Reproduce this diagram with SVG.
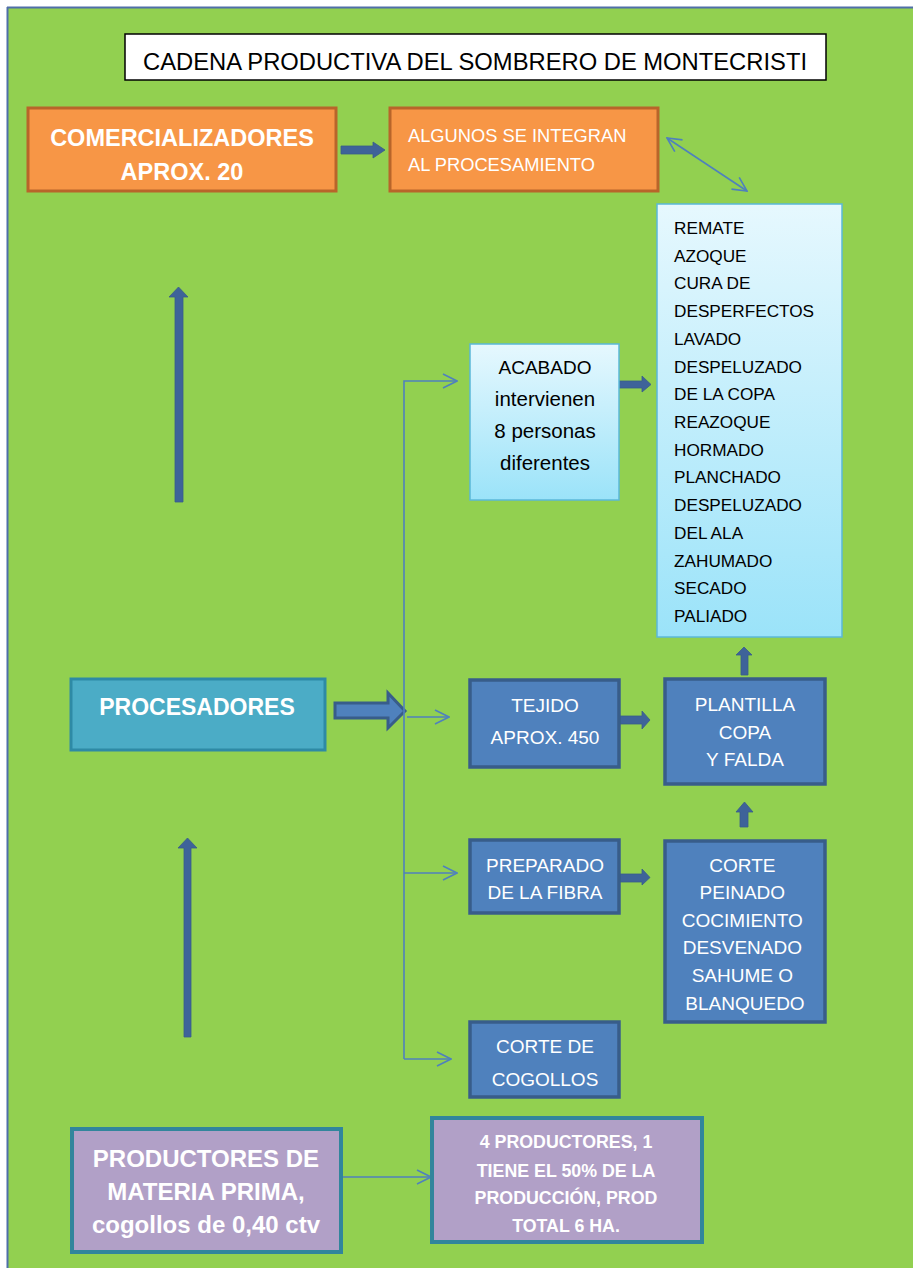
<svg xmlns="http://www.w3.org/2000/svg" width="913" height="1268" viewBox="0 0 913 1268">
<style>
text{font-family:"Liberation Sans",Arial,sans-serif;}
.w{fill:#ffffff;}
.k{fill:#000000;}
.c{text-anchor:middle;}
.b{font-weight:bold;}
.orange{fill:#F79646;stroke:#B8652A;stroke-width:3;}
.teal{fill:#4BACC6;stroke:#2E8AA5;stroke-width:3;}
.blue{fill:#4F81BD;stroke:#385D8A;stroke-width:3.5;}
.purple{fill:#B1A0C7;stroke:#31859C;stroke-width:4;}
.light{fill:url(#lg);stroke:#5BB8D8;stroke-width:1.5;}
.thick{fill:#3E6399;stroke:#385D8A;stroke-width:0.8;}
.thin{stroke:#4F81BD;stroke-width:1.6;fill:none;}
</style>
<defs>
<linearGradient id="lg" x1="0" y1="0" x2="0" y2="1">
<stop offset="0" stop-color="#E6F8FE"/>
<stop offset="1" stop-color="#9BE3F9"/>
</linearGradient>
<marker id="oa" markerUnits="userSpaceOnUse" markerWidth="16" markerHeight="16" viewBox="0 0 16 16" refX="15" refY="8" orient="auto-start-reverse">
<path d="M1,1 L15,8 L1,15" fill="none" stroke="#4F81BD" stroke-width="1.6"/>
</marker>
</defs>
<rect x="0" y="0" width="913" height="1268" fill="#ffffff"/>
<rect x="7" y="7" width="906" height="1261" fill="#92D050"/>
<line x1="7.5" y1="7" x2="7.5" y2="1268" stroke="#4F6FA8" stroke-width="2"/>
<line x1="7" y1="7.5" x2="913" y2="7.5" stroke="#4F6FA8" stroke-width="2"/>

<g id="title">
<rect x="125" y="34" width="701" height="46" fill="#ffffff" stroke="#000000" stroke-width="1.5"/>
<text x="475" y="70" class="k c" font-size="24" textLength="664" lengthAdjust="spacingAndGlyphs">CADENA PRODUCTIVA DEL SOMBRERO DE MONTECRISTI</text>
</g>

<g id="connectors">
<polygon class="thick" points="341,146 373,146 373,142 385,150 373,158 373,154 341,154"/>
<line class="thin" x1="667" y1="138" x2="747" y2="191" marker-start="url(#oa)" marker-end="url(#oa)"/>
<polygon class="thick" points="175,502 175,297 169,297 178.5,287 188,297 183,297 183,502"/>
<polygon class="thick" points="184,1037 184,848 178,848 187.5,838 197,848 191,848 191,1037"/>
<polygon points="335,703 388,703 388,693 405,711 388,728 388,718 335,718" fill="#4F81BD" stroke="#385D8A" stroke-width="3"/>
<polyline class="thin" points="404,1059 404,381 457,381" marker-end="url(#oa)"/>
<line class="thin" x1="407" y1="717" x2="449" y2="717" marker-end="url(#oa)"/>
<line class="thin" x1="404" y1="873" x2="457" y2="873" marker-end="url(#oa)"/>
<line class="thin" x1="404" y1="1059" x2="451" y2="1059" marker-end="url(#oa)"/>
<line class="thin" x1="343" y1="1177" x2="431" y2="1177" marker-end="url(#oa)"/>
<polygon class="thick" points="617,381 642,381 642,376 651,384.5 642,392 642,388 617,388"/>
<polygon class="thick" points="620,716 642,716 642,711 650,720 642,729 642,724 620,724"/>
<polygon class="thick" points="620,874 642,874 642,869 650,877.5 642,885 642,882 620,882"/>
<polygon class="thick" points="741,675 741,655 736,655 744,647 752,655 748,655 748,675"/>
<polygon class="thick" points="740,827 740,812 736,812 744.5,802 753,812 748,812 748,827"/>
</g>

<g id="comercializadores">
<rect class="orange" x="28" y="108" width="308" height="83"/>
<text x="182" y="146" class="w c b" font-size="23.5">COMERCIALIZADORES</text>
<text x="182" y="180" class="w c b" font-size="23.5">APROX. 20</text>
</g>

<g id="algunos">
<rect class="orange" x="390" y="108" width="268" height="83"/>
<text x="408" y="142" class="w" font-size="18.3">ALGUNOS SE INTEGRAN</text>
<text x="408" y="171" class="w" font-size="18.3">AL PROCESAMIENTO</text>
</g>

<g id="lista-acabado">
<rect class="light" x="657" y="204" width="185" height="433"/>
<text class="k" font-size="17.2">
<tspan x="674" y="234">REMATE</tspan>
<tspan x="674" y="262">AZOQUE</tspan>
<tspan x="674" y="289">CURA DE</tspan>
<tspan x="674" y="317">DESPERFECTOS</tspan>
<tspan x="674" y="345">LAVADO</tspan>
<tspan x="674" y="373">DESPELUZADO</tspan>
<tspan x="674" y="400">DE LA COPA</tspan>
<tspan x="674" y="428">REAZOQUE</tspan>
<tspan x="674" y="456">HORMADO</tspan>
<tspan x="674" y="483">PLANCHADO</tspan>
<tspan x="674" y="511">DESPELUZADO</tspan>
<tspan x="674" y="539">DEL ALA</tspan>
<tspan x="674" y="567">ZAHUMADO</tspan>
<tspan x="674" y="594">SECADO</tspan>
<tspan x="674" y="622">PALIADO</tspan>
</text>
</g>

<g id="acabado">
<rect class="light" x="470" y="344" width="149" height="156"/>
<text x="545" y="374" class="k c" font-size="19">ACABADO</text>
<text x="545" y="406" class="k c" font-size="20.5">intervienen</text>
<text x="545" y="438" class="k c" font-size="20.5">8 personas</text>
<text x="545" y="470" class="k c" font-size="20.5">diferentes</text>
</g>

<g id="procesadores">
<rect class="teal" x="71" y="679" width="254" height="71"/>
<text x="197" y="715" class="w c b" font-size="23">PROCESADORES</text>
</g>

<g id="tejido">
<rect class="blue" x="470" y="680" width="149" height="87"/>
<text x="545" y="712" class="w c" font-size="19">TEJIDO</text>
<text x="545" y="744" class="w c" font-size="19">APROX. 450</text>
</g>

<g id="plantilla">
<rect class="blue" x="665" y="679" width="160" height="105"/>
<text x="745" y="711" class="w c" font-size="19">PLANTILLA</text>
<text x="745" y="739" class="w c" font-size="19">COPA</text>
<text x="745" y="766" class="w c" font-size="19">Y FALDA</text>
</g>

<g id="preparado">
<rect class="blue" x="470" y="840" width="149" height="73"/>
<text x="545" y="872" class="w c" font-size="19">PREPARADO</text>
<text x="545" y="899" class="w c" font-size="19">DE LA FIBRA</text>
</g>

<g id="corte">
<rect class="blue" x="665" y="841" width="160" height="181"/>
<text class="w c" font-size="19">
<tspan x="745" y="872">CORTE</tspan>
<tspan x="745" y="899">PEINADO</tspan>
<tspan x="745" y="927">COCIMIENTO</tspan>
<tspan x="745" y="954">DESVENADO</tspan>
<tspan x="745" y="982">SAHUME O</tspan>
<tspan x="745" y="1010">BLANQUEDO</tspan>
</text>
</g>

<g id="corte-cogollos">
<rect class="blue" x="470" y="1022" width="149" height="75"/>
<text x="545" y="1053" class="w c" font-size="19">CORTE DE</text>
<text x="545" y="1086" class="w c" font-size="19">COGOLLOS</text>
</g>

<g id="productores">
<rect class="purple" x="72" y="1129" width="269" height="123"/>
<text x="206" y="1167" class="w c b" font-size="24">PRODUCTORES DE</text>
<text x="206" y="1200" class="w c b" font-size="24">MATERIA PRIMA,</text>
<text x="206" y="1233" class="w c b" font-size="24">cogollos de 0,40 ctv</text>
</g>

<g id="productores-info">
<rect class="purple" x="432" y="1118" width="270" height="124"/>
<text x="566" y="1148" class="w c b" font-size="17.8">4 PRODUCTORES, 1</text>
<text x="566" y="1177" class="w c b" font-size="17.8">TIENE EL 50% DE LA</text>
<text x="566" y="1204" class="w c b" font-size="17.8">PRODUCCIÓN, PROD</text>
<text x="566" y="1232" class="w c b" font-size="17.8">TOTAL 6 HA.</text>
</g>
</svg>
